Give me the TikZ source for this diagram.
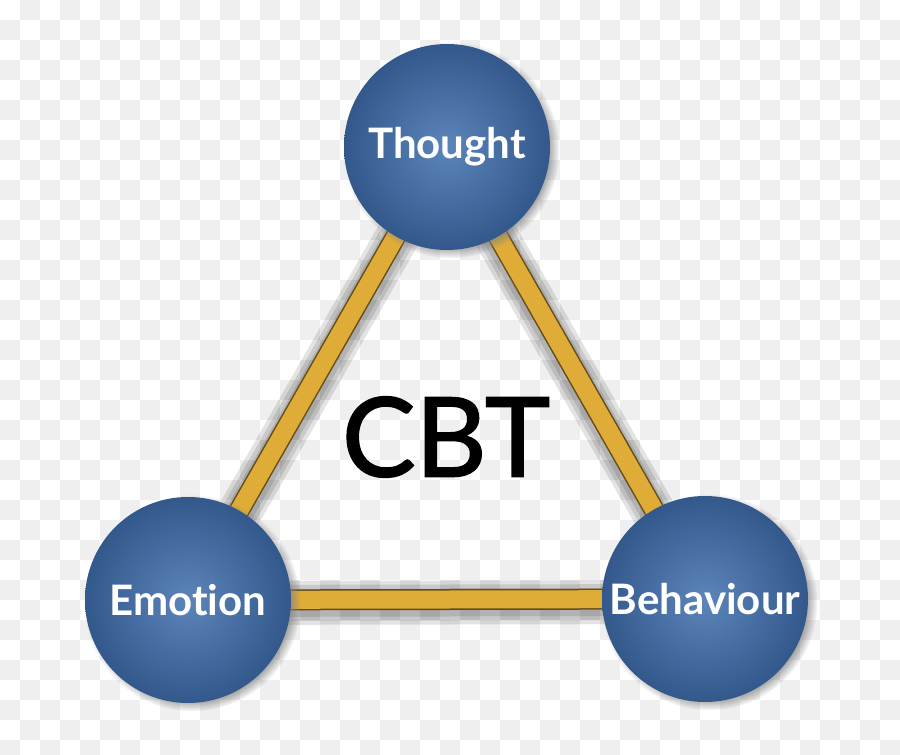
\documentclass[tikz,border=0pt]{standalone}
\usepackage{fontspec}
\setmainfont{Lato}[Ligatures=NoCommon]
\newfontfamily\cbtfont{Lato}[Ligatures=NoCommon, FakeBold=1.6]
\usetikzlibrary{shadows}

\definecolor{orbin}{HTML}{5C85BA}
\definecolor{orbmid}{HTML}{2E5386}
\definecolor{orbout}{HTML}{173760}
\definecolor{bargold}{HTML}{E0AC38}
\definecolor{boardgray}{HTML}{EFEFEF}
\pgfdeclareradialshading{orbshade}{\pgfpoint{0bp}{0bp}}{color(0bp)=(orbin); color(28bp)=(orbmid); color(50bp)=(orbout)}

\pgfdeclarelayer{board}
\pgfdeclarelayer{bars}
\pgfsetlayers{board,bars,main}

\tikzset{
  topic/.style={circle, minimum size=103pt, inner sep=0pt, shading=orbshade,
    circular drop shadow={shadow xshift=2pt, shadow yshift=-1.5pt, shadow scale=1.05, opacity=1},
    text=white, font=\bfseries\fontsize{21}{25}\selectfont},
  barglow/.style={line width=#1, draw=black, opacity=.11},
  baredge/.style={line width=10.5pt, draw=bargold!45!black},
  barfill/.style={line width=9pt, draw=bargold}
}

\begin{document}
\begin{tikzpicture}[x=0.5pt, y=-0.5pt]
  \useasboundingbox (0,0) rectangle (900,755);

  % transparent-looking board
  \begin{pgfonlayer}{board}
    \clip (0,0) rectangle (900,755);
    \fill[white] (0,0) rectangle (900,755);
    \foreach \i in {0,...,44}
      \foreach \j in {0,...,37} {
        \pgfmathtruncatemacro\odd{mod(\i+\j,2)}
        \ifnum\odd=1 \fill[boardgray] (20*\i,20*\j) rectangle ++(20,20); \fi
      }
  \end{pgfonlayer}

  % the three topics
  \node[topic] (thought) at (447,147) {Thought};
  \node[topic] (emotion) at (188,600) {Emotion};
  \node[topic] (behaviour) at (705,599) {Behaviour};

  \node[font=\cbtfont\fontsize{55}{60}\selectfont] (cbt) at (446,437) {CBT};

  % links
  \begin{pgfonlayer}{bars}
    \foreach \a/\b in {thought/emotion, emotion/behaviour, behaviour/thought} {
      \foreach \w in {44,36,28}
        \draw[barglow=\w*0.5pt, transform canvas={yshift=-1.5pt}] (\a.center) -- (\b.center);
      \draw[baredge] (\a.center) -- (\b.center);
      \draw[barfill] (\a.center) -- (\b.center);
    }
  \end{pgfonlayer}
\end{tikzpicture}
\end{document}
